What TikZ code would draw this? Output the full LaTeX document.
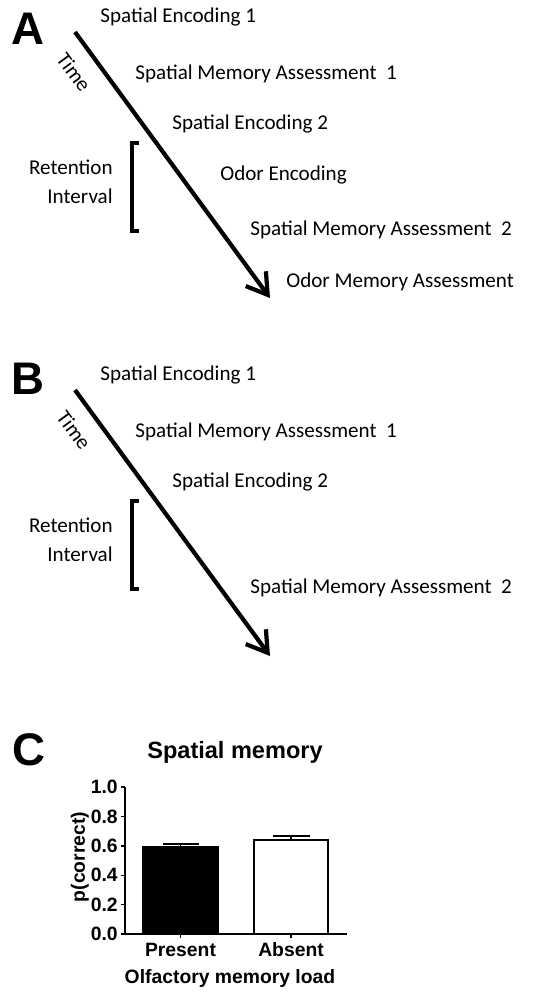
\documentclass[tikz,border=0pt]{standalone}
\usepackage{fontspec}
\setmainfont{Carlito}
\newfontfamily\plotfont{Liberation Sans}
\usetikzlibrary{arrows.meta}
\tikzset{%
  event/.style     = {anchor=west, inner sep=0pt, font=\fontsize{12}{14}\selectfont},%
  retention/.style = {anchor=east, inner sep=0pt, align=right,%
                      font=\fontsize{12}{16.5}\selectfont},%
  timelabel/.style = {inner sep=0pt, rotate=-53.8, font=\fontsize{12}{14}\selectfont},%
  panel/.style     = {inner sep=0pt, font=\plotfont\bfseries\fontsize{26}{28}\selectfont},%
  timearrow/.style = {line width=2.4pt, -{Straight Barb[length=4mm,width=5mm]}},%
  bracket/.style   = {line width=2.2pt},%
  plottext/.style  = {inner sep=0pt, font=\plotfont\bfseries\fontsize{11}{13}\selectfont},%
  axisline/.style  = {line width=0.8pt},%
  bar/.style       = {draw, line width=1.1pt}%
}
\begin{document}
\begin{tikzpicture}[x=0.02cm, y=-0.02cm]%
	\useasboundingbox (0,0) rectangle (549,1007);
	% A
	\node[panel] (labA) at (28,29) {A};
	\coordinate (startA) at (75,32);
	\coordinate (endA) at (270,298);
	\draw[timearrow] (startA) -- (endA);
	\node[timelabel] (timeA) at (74,72) {Time};
	\node[event] (encA1) at (100,17) {Spatial Encoding 1};
	\node[event] (assA1) at (135,74) {Spatial Memory Assessment\ \ 1};
	\node[event] (encA2) at (172,124) {Spatial Encoding 2};
	\node[event] (odorA) at (220,175) {Odor Encoding};
	\node[event] (assA2) at (250,230) {Spatial Memory Assessment\ \ 2};
	\node[event] (odorassA) at (286,282) {Odor Memory Assessment};
	\node[retention] (retA) at (113,182) {Retention\\Interval};
	\draw[bracket] (139,143) -- (132,143) -- (132,231) -- (139,231);
	% B
	\node[panel] (labB) at (28,379) {B};
	\begin{scope}[shift={(0,358)}]
		\coordinate (startB) at (75,32);
		\coordinate (endB) at (270,298);
		\draw[timearrow] (startB) -- (endB);
		\node[timelabel] (timeB) at (74,72) {Time};
		\node[event] (encB1) at (100,17) {Spatial Encoding 1};
		\node[event] (assB1) at (135,74) {Spatial Memory Assessment\ \ 1};
		\node[event] (encB2) at (172,124) {Spatial Encoding 2};
		\node[event] (assB2) at (250,230) {Spatial Memory Assessment\ \ 2};
		\node[retention] (retB) at (113,182) {Retention\\Interval};
		\draw[bracket] (139,143) -- (132,143) -- (132,231) -- (139,231);
	\end{scope}
	% C
	\node[panel] (labC) at (29,750) {C};
	\node[plottext, font=\plotfont\bfseries\fontsize{13.4}{15}\selectfont] (title) at (235,752) {Spatial memory};
	\node[plottext, rotate=90] (ylab) at (80,857) {p(correct)};
	\node[plottext] (xlab) at (230,978) {Olfactory memory load};
	\begin{scope}[shift={(125,934)}, y=2.94cm]
		\draw[bar, fill=black] (18,0) rectangle (93,0.59);
		\draw[bar] (55.5,0.59) -- (55.5,0.615) (38,0.615) -- (74,0.615);
		\draw[bar, fill=white] (129,0) rectangle (203,0.64);
		\draw[bar] (166,0.64) -- (166,0.665) (148,0.665) -- (185,0.665);
		\draw[axisline] (0,1) -- (0,0) -- (222,0);
		\foreach \v/\t [count=\i] in {0/0.0,0.2/0.2,0.4/0.4,0.6/0.6,0.8/0.8,1/1.0}
			\draw[axisline] (0,\v) -- (-4,\v) node[plottext, anchor=east, xshift=-1.5pt] (ytick\i) {\t};
		\draw[axisline] (55.5,0) -- (55.5,-0.03) (166,0) -- (166,-0.03);
		\node[plottext] (present) at (55.5,-0.109) {Present};
		\node[plottext] (absent) at (166,-0.109) {Absent};
	\end{scope}
\end{tikzpicture}
\end{document}
